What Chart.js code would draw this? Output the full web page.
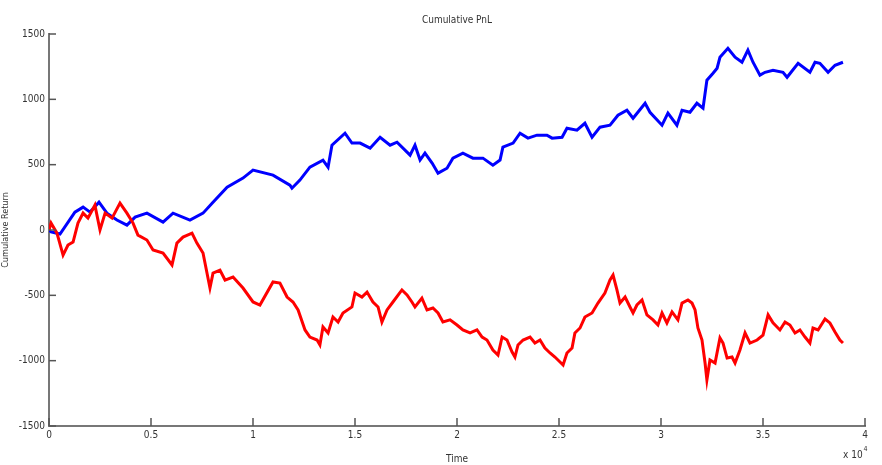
<!DOCTYPE html>
<html>
<head>
<meta charset="utf-8">
<script src="https://cdn.jsdelivr.net/npm/chart.js@4.4.1/dist/chart.umd.min.js"></script>
<style>
  html, body { margin: 0; padding: 0; background: #fff; }
  #wrap { width: 882px; height: 465px; position: relative; }
</style>
</head>
<body>
<div id="wrap"><canvas id="pnl"></canvas></div>
<script>
// values (time, cumulative return)
const blueTime = [0, 100, 540, 1270, 1670, 2010, 2450, 2840, 3330, 3820, 4220, 4800, 5590, 6080, 6910, 7550, 8040, 8730, 9510, 10000,
  10980, 11810, 11910, 12300, 12790, 13430, 13680, 13870, 14510, 14850, 15250, 15740, 16230, 16720, 17060, 17700, 17940, 18190, 18430, 18780,
  19070, 19510, 19800, 20290, 20780, 21270, 21760, 22110, 22250, 22750, 23090, 23480, 23920, 24410, 24660, 25150, 25390, 25880, 26270, 26620,
  27010, 27500, 27890, 28330, 28630, 29220, 29460, 30050, 30340, 30780, 31030, 31420, 31760, 32060, 32250, 32550, 32750, 32890, 33280, 33630,
  33970, 34260, 34510, 34850, 35100, 35490, 35980, 36180, 36720, 37300, 37550, 37790, 38190, 38530, 38920];
const blueValues = [0, -15, -31, 137, 175, 137, 213, 129, 76, 37, 99, 129, 60, 129, 76, 129, 213, 328, 397, 458,
  420, 343, 320, 382, 481, 535, 481, 649, 741, 665, 665, 626, 710, 649, 672, 573, 649, 535, 588, 512,
  435, 473, 550, 588, 550, 550, 496, 535, 634, 665, 741, 703, 726, 726, 703, 710, 779, 764, 817, 710,
  787, 802, 878, 916, 855, 970, 901, 802, 894, 802, 916, 901, 970, 932, 1146, 1200, 1238, 1322, 1391, 1322,
  1284, 1376, 1284, 1185, 1207, 1223, 1207, 1169, 1276, 1207, 1284, 1276, 1207, 1261, 1284];

const redTime = [0, 100, 390, 690, 930, 1180, 1420, 1670, 1910, 2250, 2500, 2750, 3090, 3480, 3820, 4120, 4360, 4800, 5100, 5590,
  6030, 6270, 6570, 7010, 7250, 7550, 7890, 8040, 8380, 8630, 9020, 9510, 10000, 10340, 10980, 11320, 11670, 11960, 12210, 12550,
  12790, 13140, 13280, 13430, 13680, 13920, 14170, 14410, 14850, 15000, 15340, 15590, 15880, 16130, 16320, 16570, 16860, 17300, 17550, 17790,
  17940, 18280, 18530, 18820, 19070, 19310, 19660, 20000, 20290, 20640, 20980, 21230, 21470, 21760, 22010, 22210, 22450, 22700, 22840, 22990,
  23240, 23580, 23820, 24070, 24310, 24560, 24800, 25050, 25200, 25390, 25640, 25780, 26030, 26270, 26620, 26910, 27250, 27500, 27650, 27840,
  27990, 28240, 28480, 28630, 28820, 29070, 29310, 29610, 29850, 30050, 30290, 30540, 30830, 31030, 31320, 31520, 31670, 31810, 32010, 32160,
  32250, 32400, 32650, 32890, 33040, 33240, 33480, 33630, 33870, 34120, 34360, 34710, 35000, 35250, 35490, 35830, 36080, 36320, 36570, 36810,
  37060, 37300, 37450, 37700, 38040, 38280, 38530, 38770, 38920];
const redValues = [0, 53, -24, -192, -115, -92, 53, 129, 91, 190, 0, 129, 91, 206, 129, 53, -39, -77, -153, -176,
  -268, -100, -54, -24, -100, -176, -444, -330, -307, -383, -360, -444, -551, -574, -398, -406, -513, -551, -612, -765,
  -819, -842, -880, -742, -788, -666, -704, -635, -589, -482, -513, -475, -551, -589, -704, -612, -551, -459, -497, -551,
  -589, -521, -612, -597, -635, -704, -688, -727, -765, -788, -765, -819, -842, -918, -957, -819, -842, -934, -972, -880,
  -842, -819, -865, -842, -903, -941, -972, -1010, -1033, -941, -903, -788, -750, -666, -635, -559, -482, -383, -345, -459,
  -559, -513, -589, -635, -574, -536, -650, -688, -727, -635, -711, -627, -688, -559, -536, -559, -612, -750, -842, -1018,
  -1148, -995, -1018, -826, -865, -980, -972, -1018, -918, -788, -865, -842, -804, -650, -711, -765, -704, -727, -788, -765,
  -819, -865, -750, -765, -681, -711, -780, -842, -865];

const yTicks = [-1500, -1000, -500, 0, 500, 1000, 1500];
const xTicks = [0, 5000, 10000, 15000, 20000, 25000, 30000, 35000, 40000];

const toPoints = (ts, vs) => ts.map((t, i) => ({ x: t, y: vs[i] }));

const FONT = "'Liberation Sans Narrow', 'DejaVu Sans Condensed', 'Liberation Sans', sans-serif";

// matlab style inward ticks, title and exponent label
const matlabDecor = {
  id: 'matlabDecor',
  afterDraw(chart) {
    const { ctx, chartArea, scales } = chart;
    ctx.save();
    ctx.strokeStyle = '#555';
    ctx.lineWidth = 1.5;
    xTicks.forEach(v => {
      const px = scales.x.getPixelForValue(v);
      ctx.beginPath();
      ctx.moveTo(px, chartArea.bottom);
      ctx.lineTo(px, chartArea.bottom - 8);
      ctx.stroke();
    });
    yTicks.forEach(v => {
      const py = scales.y.getPixelForValue(v);
      ctx.beginPath();
      ctx.moveTo(chartArea.left, py);
      ctx.lineTo(chartArea.left + 7, py);
      ctx.stroke();
    });
    ctx.fillStyle = '#333';
    ctx.font = '10px ' + FONT;
    ctx.textAlign = 'center';
    ctx.textBaseline = 'middle';
    ctx.fillText('Cumulative PnL', (chartArea.left + chartArea.right) / 2, 20);
    // x10^4
    ctx.textAlign = 'left';
    const base = 'x 10';
    const x0 = chartArea.right - 22;
    ctx.fillText(base, x0, 455);
    const w = ctx.measureText(base).width;
    ctx.font = '7px ' + FONT;
    ctx.fillText('4', x0 + w + 1, 449);
    ctx.restore();
  }
};

new Chart(document.getElementById('pnl'), {
  type: 'line',
  data: {
    datasets: [
      {
        label: 'Strategy A',
        data: toPoints(blueTime, blueValues),
        borderColor: '#0000ff',
        borderWidth: 3,
        pointRadius: 0,
        tension: 0,
        order: 1
      },
      {
        label: 'Strategy B',
        data: toPoints(redTime, redValues),
        borderColor: '#ff0000',
        borderWidth: 3,
        pointRadius: 0,
        tension: 0,
        order: 0
      }
    ]
  },
  options: {
    responsive: true,
    maintainAspectRatio: false,
    animation: false,
    layout: { padding: { left: 0, right: 17, top: 34, bottom: 0 } },
    plugins: {
      legend: { display: false },
      tooltip: { enabled: false },
      title: { display: false }
    },
    scales: {
      x: {
        type: 'linear',
        min: 0,
        max: 40000,
        afterBuildTicks: scale => { scale.ticks = xTicks.map(v => ({ value: v })); },
        afterFit: scale => { scale.height = 39; },
        grid: { display: true, drawOnChartArea: false, drawTicks: false },
        border: { display: true, color: '#777', width: 2 },
        ticks: {
          padding: 3,
          color: '#333',
          font: { family: FONT, size: 10 },
          maxRotation: 0,
          callback: v => String(v / 10000)
        },
        title: {
          display: true,
          text: 'Time',
          color: '#333',
          font: { family: FONT, size: 10 },
          padding: { top: 0, bottom: 0 }
        }
      },
      y: {
        min: -1500,
        max: 1500,
        afterBuildTicks: scale => { scale.ticks = yTicks.map(v => ({ value: v })); },
        afterFit: scale => { scale.width = 49; },
        grid: { display: true, drawOnChartArea: false, drawTicks: false },
        border: { display: true, color: '#777', width: 2 },
        ticks: {
          padding: 4,
          color: '#333',
          font: { family: FONT, size: 10 },
          callback: v => String(v)
        },
        title: {
          display: true,
          text: 'Cumulative Return',
          color: '#333',
          font: { family: FONT, size: 9 },
          padding: { top: 0, bottom: 0 }
        }
      }
    }
  },
  plugins: [matlabDecor]
});
</script>
</body>
</html>
